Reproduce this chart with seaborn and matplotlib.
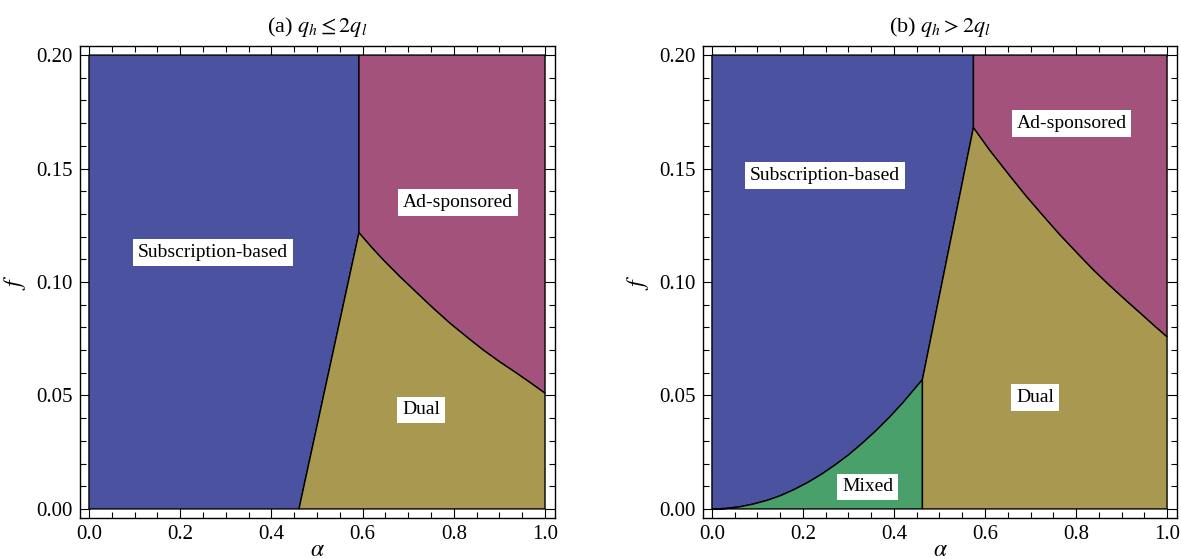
import numpy as np
import seaborn as sns
import matplotlib.pyplot as plt
from matplotlib.ticker import MultipleLocator, FormatStrFormatter

# Region boundaries (alpha on x, f on y)
# panel (a): q_h <= 2 q_l
a_split = 0.592                          # vertical Subscription / Ad-sponsored border
a_sub_dual_alpha = [0.4605, 0.592]
a_sub_dual_f = [0.0, 0.1217]
a_ad_dual_alpha = [0.592, 0.62, 0.6455, 0.68, 0.7186, 0.755, 0.7917, 0.83, 0.8647, 0.90, 0.9379, 0.97, 1.0]
a_ad_dual_f = [0.1217, 0.1152, 0.1097, 0.1027, 0.0953, 0.0884, 0.0818, 0.0755, 0.0700, 0.0649,
               0.0598, 0.0553, 0.0510]

# panel (b): q_h > 2 q_l
b_split = 0.5746
b_mixed_edge = 0.4625
b_mixed_alpha = [0.0, 0.03, 0.06, 0.09, 0.12, 0.15, 0.18, 0.21, 0.24, 0.27, 0.30, 0.33, 0.36,
                 0.39, 0.42, 0.4625]
b_mixed_f = [0.0, 0.0002, 0.0009, 0.0021, 0.0037, 0.0058, 0.0085, 0.0116, 0.0152, 0.0193,
             0.0238, 0.0289, 0.0344, 0.0404, 0.0469, 0.0570]
b_sub_dual_alpha = [0.4625, 0.5746]
b_sub_dual_f = [0.0570, 0.1681]
b_ad_dual_alpha = [0.5746, 0.61, 0.6535, 0.69, 0.7266, 0.763, 0.7997, 0.836, 0.8728, 0.91, 0.9459, 0.973, 1.0]
b_ad_dual_f = [0.1681, 0.1582, 0.1471, 0.1380, 0.1295, 0.1212, 0.1134, 0.1058, 0.0987, 0.0919,
               0.0855, 0.0806, 0.0759]

f_max = 0.2

labels_a = [("Subscription-based", 0.272, 0.113), ("Ad-sponsored", 0.809, 0.135), ("Dual", 0.728, 0.0436)]
labels_b = [("Subscription-based", 0.248, 0.147), ("Ad-sponsored", 0.79, 0.170),
            ("Dual", 0.71, 0.049), ("Mixed", 0.342, 0.0097)]

colors = {"sub": "#4B52A0", "ad": "#A3527C", "dual": "#A89850", "mixed": "#4AA06A"}

sns.set_theme(style="ticks")
plt.rcParams['font.family'] = ['Liberation Serif', 'DejaVu Serif']
plt.rcParams['mathtext.fontset'] = 'stix'
plt.rcParams['text.color'] = 'black'
plt.rcParams['axes.labelcolor'] = 'black'
plt.rcParams['xtick.color'] = 'black'
plt.rcParams['ytick.color'] = 'black'

fig = plt.figure(figsize=(11.81, 5.59), dpi=100)
ax_a = fig.add_axes([80 / 1181, 41 / 559, 475 / 1181, 472 / 559])
ax_b = fig.add_axes([703 / 1181, 41 / 559, 474 / 1181, 472 / 559])


def region(ax, xs, ys, key):
    ax.fill(xs, ys, facecolor=colors[key], edgecolor='black', linewidth=1.0, zorder=2)


# panel (a)
region(ax_a, [0] + a_sub_dual_alpha + [a_split, 0], [0] + a_sub_dual_f + [f_max, f_max], "sub")
region(ax_a, [a_split, 1] + a_ad_dual_alpha[::-1], [f_max, f_max] + a_ad_dual_f[::-1], "ad")
region(ax_a, a_sub_dual_alpha + a_ad_dual_alpha[1:] + [1],
       a_sub_dual_f + a_ad_dual_f[1:] + [0], "dual")

# panel (b)
region(ax_b, b_mixed_alpha + b_sub_dual_alpha[1:] + [b_split, 0],
       b_mixed_f + b_sub_dual_f[1:] + [f_max, f_max], "sub")
region(ax_b, b_mixed_alpha + [b_mixed_edge], b_mixed_f + [0], "mixed")
region(ax_b, [b_mixed_edge] + b_sub_dual_alpha + b_ad_dual_alpha[1:] + [1],
       [0] + b_sub_dual_f + b_ad_dual_f[1:] + [0], "dual")
region(ax_b, [b_split, 1] + b_ad_dual_alpha[::-1], [f_max, f_max] + b_ad_dual_f[::-1], "ad")

for ax, labels, title in [(ax_a, labels_a, r"(a) $q_h \leq 2q_l$"),
                          (ax_b, labels_b, r"(b) $q_h > 2q_l$")]:
    for txt, x, y in labels:
        ax.text(x, y, txt, ha='center', va='center', fontsize=14, zorder=5,
                bbox=dict(facecolor='white', edgecolor='none', pad=3.5))
    ax.set_xlim(-0.0197, 1.0219)
    ax.set_ylim(-0.004, 0.204)
    ax.xaxis.set_major_locator(MultipleLocator(0.2))
    ax.xaxis.set_minor_locator(MultipleLocator(0.05))
    ax.yaxis.set_major_locator(MultipleLocator(0.05))
    ax.yaxis.set_minor_locator(MultipleLocator(0.01))
    ax.xaxis.set_major_formatter(FormatStrFormatter('%.1f'))
    ax.yaxis.set_major_formatter(FormatStrFormatter('%.2f'))
    ax.tick_params(which='both', direction='in', top=True, right=True, labelsize=15, width=0.8)
    ax.tick_params(which='major', length=7, pad=5)
    ax.tick_params(which='minor', length=4)
    for s in ax.spines.values():
        s.set_linewidth(1.0)
        s.set_color('black')
    ax.set_title(title, fontsize=16, pad=10)
    ax.set_xlabel(r"$\alpha$", fontsize=17, va='center')
    ax.xaxis.set_label_coords(0.5, -0.068)
    ax.set_ylabel(r"$f$", fontsize=17, labelpad=6)

fig.savefig("out.png", dpi=100)
